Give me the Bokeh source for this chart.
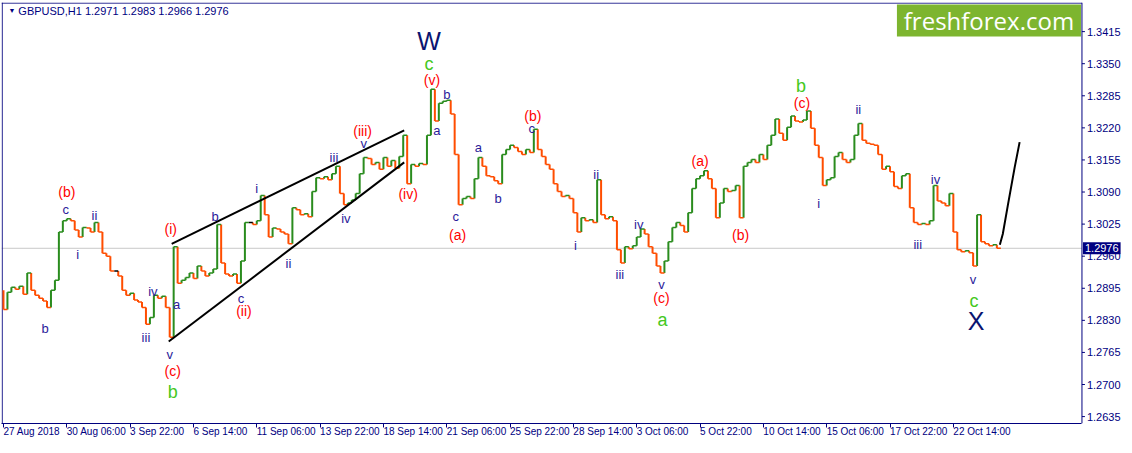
from bokeh.plotting import figure
from bokeh.models import (Range1d, FixedTicker, Label, BoxAnnotation, ColumnDataSource)
from bokeh.core.properties import value
from bokeh.embed import file_html
from bokeh.resources import INLINE

# ---------------- data ----------------
symbol = "GBPUSD,H1"
last_ohlc = [1.2971, 1.2983, 1.2966, 1.2976]
last_price = 1.2976
bar_step = 4          # hours per sample
open_first = 1.2891

close = [
    1.2852, 1.2887, 1.2897, 1.2893, 1.2899, 1.2883, 1.2926, 1.2891, 1.2881, 1.2875,
    1.2869, 1.2856, 1.2891, 1.2911, 1.3009, 1.3032, 1.3036, 1.3032, 1.3013, 1.2999,
    1.3018, 1.3017, 1.3009, 1.3028, 1.3009, 1.2966, 1.2960, 1.2930, 1.2930, 1.2920,
    1.2891, 1.2881, 1.2885, 1.2871, 1.2867, 1.2856, 1.2822, 1.2836, 1.2881, 1.2875,
    1.2879, 1.2856, 1.2796, 1.2979, 1.2905, 1.2911, 1.2917, 1.2926, 1.2915, 1.2940,
    1.2930, 1.2920, 1.2926, 1.2934, 1.3024, 1.2946, 1.2924, 1.2920, 1.2924, 1.2905,
    1.2950, 1.3028, 1.3028, 1.3024, 1.3032, 1.3083, 1.3044, 1.2999, 1.3017, 1.3015,
    1.3009, 1.3005, 1.2985, 1.3058, 1.3054, 1.3044, 1.3046, 1.3040, 1.3091, 1.3119,
    1.3117, 1.3121, 1.3115, 1.3127, 1.3142, 1.3087, 1.3064, 1.3068, 1.3074, 1.3087,
    1.3127, 1.3160, 1.3158, 1.3146, 1.3150, 1.3136, 1.3160, 1.3142, 1.3154, 1.3138,
    1.3162, 1.3205, 1.3107, 1.3146, 1.3142, 1.3148, 1.3146, 1.3205, 1.3298, 1.3234,
    1.3270, 1.3274, 1.3276, 1.3248, 1.3166, 1.3064, 1.3077, 1.3081, 1.3077, 1.3117,
    1.3160, 1.3142, 1.3123, 1.3121, 1.3113, 1.3107, 1.3166, 1.3176, 1.3185, 1.3180,
    1.3172, 1.3166, 1.3176, 1.3170, 1.3217, 1.3176, 1.3162, 1.3146, 1.3136, 1.3107,
    1.3091, 1.3081, 1.3083, 1.3077, 1.3048, 1.3009, 1.3038, 1.3032, 1.3034, 1.3028,
    1.3115, 1.3044, 1.3036, 1.3040, 1.3032, 1.2973, 1.2946, 1.2979, 1.2975, 1.2981,
    1.2999, 1.3015, 1.3005, 1.2979, 1.2966, 1.2940, 1.2926, 1.2950, 1.2989, 1.3018,
    1.3028, 1.3022, 1.3009, 1.3048, 1.3097, 1.3117, 1.3123, 1.3133, 1.3117, 1.3097,
    1.3038, 1.3068, 1.3097, 1.3091, 1.3093, 1.3103, 1.3038, 1.3142, 1.3150, 1.3156,
    1.3150, 1.3166, 1.3156, 1.3185, 1.3205, 1.3238, 1.3209, 1.3195, 1.3221, 1.3244,
    1.3234, 1.3232, 1.3236, 1.3254, 1.3219, 1.3185, 1.3160, 1.3103, 1.3115, 1.3119,
    1.3162, 1.3170, 1.3156, 1.3150, 1.3156, 1.3205, 1.3229, 1.3195, 1.3189, 1.3187,
    1.3185, 1.3166, 1.3136, 1.3142, 1.3131, 1.3101, 1.3097, 1.3123, 1.3127, 1.3058,
    1.3028, 1.3024, 1.3026, 1.3024, 1.3032, 1.3103, 1.3072, 1.3068, 1.3062, 1.3087,
    1.3009, 1.2973, 1.2969, 1.2971, 1.2967, 1.2940, 1.3044, 1.2989, 1.2985, 1.2981,
    1.2983, 1.2976,
]

date_ticks = [0, 64, 128, 192, 256, 320, 384, 448, 512, 576, 640, 704, 768, 832, 896, 960]
date_labels = ["27 Aug 2018", "30 Aug 06:00", "3 Sep 22:00", "6 Sep 14:00", "11 Sep 06:00",
               "13 Sep 22:00", "18 Sep 14:00", "21 Sep 06:00", "25 Sep 22:00", "28 Sep 14:00",
               "3 Oct 06:00", "5 Oct 22:00", "10 Oct 14:00", "15 Oct 06:00", "17 Oct 22:00",
               "22 Oct 14:00"]
price_ticks = [1.2635, 1.2700, 1.2765, 1.2830, 1.2895, 1.2960, 1.3025,
               1.3090, 1.3155, 1.3220, 1.3285, 1.3350, 1.3415]

wedge_upper_x = [170, 405]
wedge_upper_y = [1.2985, 1.3215]
wedge_lower_x = [167, 405]
wedge_lower_y = [1.2787, 1.3150]
proj_x = [1007, 1010, 1015, 1022, 1027]
proj_y = [1.2983, 1.3005, 1.3062, 1.3140, 1.3191]

navy_txt = ["b", "c", "ii", "i", "iii", "iv", "v", "a", "b", "c", "i", "ii", "iii", "iv", "v",
            "a", "b", "c", "a", "b", "c", "i", "ii", "iii", "iv", "v", "i", "ii", "iii", "iv", "v"]
navy_x = [42, 63, 92, 75, 144, 151, 168, 175, 214, 240, 256, 288, 334, 346, 364,
          438, 448, 457, 480, 500, 534, 578, 599, 623, 642, 665, 824, 864, 924, 942, 980]
navy_y = [1.2814, 1.3054, 1.3042, 1.2963, 1.2795, 1.2889, 1.2761, 1.2862, 1.3040, 1.2875,
          1.3097, 1.2946, 1.3160, 1.3036, 1.3189, 1.3215, 1.3287, 1.3040, 1.3180, 1.3076,
          1.3219, 1.2981, 1.3126, 1.2922, 1.3024, 1.2903, 1.3066, 1.3258, 1.2983, 1.3115, 1.2913]

red_txt = ["(b)", "(i)", "(c)", "(ii)", "(iii)", "(iv)", "(v)", "(a)", "(b)", "(c)", "(a)", "(b)", "(c)"]
red_x = [64, 169, 171, 243, 363, 409, 433, 459, 535, 665, 704, 745, 807]
red_y = [1.3091, 1.3015, 1.2728, 1.2848, 1.3213, 1.3085, 1.3317, 1.3003, 1.3244, 1.2875,
         1.3152, 1.3003, 1.3270]

green_txt = ["b", "c", "a", "b", "c"]
green_x = [171, 430, 666, 806, 981]
green_y = [1.2685, 1.3350, 1.2830, 1.3305, 1.2869]

big_txt = ["W", "X"]
big_x = [430, 983]
big_y = [1.3395, 1.2828]

# ---------------- styles ----------------
NAVY = "#00007f"
UP = "#2a8c1e"
DOWN = "#ff4d00"
FONT = "Liberation Sans"

X0, X1 = -2, 1133        # frame covers the price-scale strip as well
AXIS_X = 1090            # position of the price scale (in bar units)
Y0, Y1 = 1.2621, 1.3474

p = figure(width=1124, height=445, output_backend="svg", toolbar_location=None,
           x_range=Range1d(X0, X1), y_range=Range1d(Y0, Y1),
           y_axis_location=None, min_border_left=1, min_border_top=2,
           min_border_bottom=0, min_border_right=0)
p.background_fill_color = "white"
p.border_fill_color = "white"
p.outline_line_color = None
p.grid.visible = False

# time axis (library axis, stops at the price scale)
p.xaxis.ticker = FixedTicker(ticks=date_ticks)
p.xaxis.major_label_overrides = {t: l for t, l in zip(date_ticks, date_labels)}
p.xaxis.bounds = (X0, AXIS_X)
p.xaxis.axis_line_color = NAVY
p.xaxis.major_tick_line_color = NAVY
p.xaxis.major_tick_in = 0
p.xaxis.major_tick_out = 4
p.xaxis.minor_tick_line_color = None
p.xaxis.major_label_text_font = FONT
p.xaxis.major_label_text_color = NAVY
p.xaxis.major_label_text_font_size = "10px"
p.xaxis.major_label_orientation = -0.0001
p.xaxis.major_label_standoff = 4

# frame borders (left, top) and the price scale line
p.segment(x0=[X0 + 0.7, X0, AXIS_X], y0=[Y0, Y1 - 0.00012, Y0],
          x1=[X0 + 0.7, AXIS_X, AXIS_X], y1=[Y1, Y1 - 0.00012, Y1],
          line_color=NAVY, line_width=1)
# price scale ticks and labels, placed through the price scale
p.segment(x0=[AXIS_X] * len(price_ticks), y0=price_ticks,
          x1=[AXIS_X + 3] * len(price_ticks), y1=price_ticks,
          line_color=NAVY, line_width=1)
p.text(x=[AXIS_X + 5] * len(price_ticks), y=price_ticks,
       text=[f"{v:.4f}" for v in price_ticks], text_color=NAVY,
       text_font=value(FONT), text_font_size="11px", text_align="left",
       text_baseline="middle")

# current price line
p.line([X0, AXIS_X], [last_price, last_price], line_color="#c8c8c8", line_width=1,
       level="underlay")

# bars (open = previous close)
opens = [open_first] + close[:-1]
hours = [bar_step * i for i in range(len(close))]
cols = [UP if c > o else (DOWN if c < o else "black") for o, c in zip(opens, close)]
src = ColumnDataSource(dict(x=hours, x1=[h + bar_step for h in hours],
                            o=opens, c=close, col=cols))
p.segment(x0="x", y0="o", x1="x", y1="c", line_color="col", line_width=2, source=src)
p.segment(x0="x", y0="c", x1="x1", y1="c", line_color="col", line_width=1.5, source=src)

# wedge and projection
p.line(wedge_upper_x, wedge_upper_y, line_color="black", line_width=2)
p.line(wedge_lower_x, wedge_lower_y, line_color="black", line_width=2)
p.line(proj_x, proj_y, line_color="black", line_width=2)

# wave labels
p.text(navy_x, navy_y, text=navy_txt, text_color="#2b1b9a", text_font=value(FONT),
       text_font_size="13px", text_align="center", text_baseline="middle")
p.text(red_x, red_y, text=red_txt, text_color="#ff0000", text_font=value(FONT),
       text_font_size="14px", text_align="center", text_baseline="middle")
p.text(green_x, green_y, text=green_txt, text_color="#44c822", text_font=value(FONT),
       text_font_size="18px", text_align="center", text_baseline="middle")
p.text(big_x, big_y, text=big_txt, text_color="#0a1470", text_font=value(FONT),
       text_font_size="25px", text_align="center", text_baseline="middle")

# current price tag on the price scale
p.add_layout(Label(x=AXIS_X, y=last_price, x_offset=1, text=f"{last_price:.4f}",
                   text_font=FONT, text_font_size="11px", text_color="white",
                   text_baseline="middle", background_fill_color="#000080", padding=2))

# header
p.add_layout(Label(x=5, y=1.3457, text="\u25bc", text_font_size="7px",
                   text_color=NAVY, text_baseline="middle"))
p.add_layout(Label(x=15, y=1.3456,
                   text=f"{symbol}  " + " ".join(f"{v:.4f}" for v in last_ohlc),
                   text_font=FONT, text_font_size="11px", text_color=NAVY,
                   text_baseline="middle"))

# logo
p.add_layout(BoxAnnotation(left=903, right=AXIS_X - 1, top=1.3470, bottom=1.3405,
                           fill_color="#7db52f", fill_alpha=1.0, line_color=None))
p.add_layout(Label(x=996, y=1.3438, text="freshforex.com", text_font="Open Sans",
                   text_font_size="24px", text_color="white", text_align="center",
                   text_baseline="middle"))

open("out.html", "w").write(file_html(p, INLINE))
